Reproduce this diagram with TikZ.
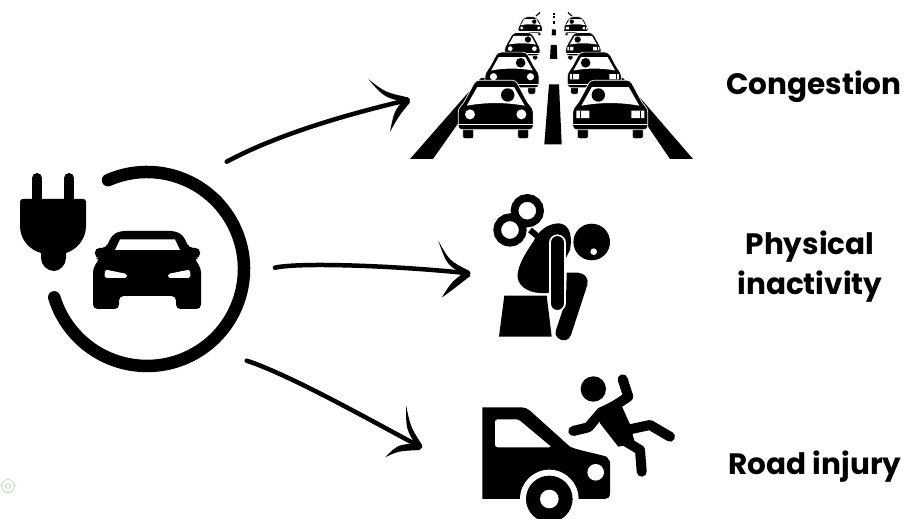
\documentclass[tikz,border=0pt]{standalone}
\usepackage{fontspec}
\setmainfont{Poppins}
\usetikzlibrary{calc}
\def\px{0.02cm}
\tikzset{
  shaft/.style={line width=4.5*\px,line cap=round},
  limb/.style={line width=10*\px,line cap=round,line join=round},
  carline/.style={draw=white,line width=0.7*\px,fill=black,line join=round},
  label/.style={font=\bfseries\fontsize{16.8pt}{22.8pt}\selectfont,align=center,inner sep=0pt}
}
% tapered barb of a hand drawn arrow head: end, via, tip, half width
\newcommand{\barb}[4]{\fill (#1) .. controls ($(#2)!#4!90:(#3)$) .. ($(#3)!#4!-90:(#2)$) -- ($(#3)!#4!90:(#2)$) .. controls ($(#2)!#4!-90:(#3)$) .. (#1);}
\newcommand{\roundlamps}{\fill[white] (-25.7,-26.3) circle (5) (25.7,-26.3) circle (5);}
\newcommand{\squarelamps}{
  \fill[white] (-34,-30) rectangle (-21,-22.5) (21,-30) rectangle (34,-22.5);
  \draw[line width=0.8*\px] (-30,-30) -- (-30,-22.5) (30,-30) -- (30,-22.5);}
\newcommand{\jamcar}[5]{
  \begin{scope}[shift={(#1,#2)},scale=#3]
    \filldraw[carline,rounded corners=1.2pt] (-33,-14) -- (-33,-2) -- (-22,-2) -- (-22,-14) -- cycle;
    \filldraw[carline,rounded corners=1.2pt] (33,-14) -- (33,-2) -- (22,-2) -- (22,-14) -- cycle;
    \filldraw[carline,rounded corners=2pt] (-20,-60.5) -- (20,-60.5) -- (32.5,-37) -- (37.5,-32) -- (37.5,-11) -- (-37.5,-11) -- (-37.5,-32) -- (-32.5,-37) -- cycle;
    \draw[white,line width=0.7*\px] (-37.5,-16) -- (37.5,-16);
    \fill[white] (-29,-35) -- (-18.5,-53.5) -- (18.5,-53.5) -- (29,-35) .. controls (10,-38.5) and (-10,-38.5) .. cycle;
    \fill (#4,-45.7) circle (6.7);
    #5
  \end{scope}}
\begin{document}
\begin{tikzpicture}[x=0.02cm,y=-0.02cm]
  \useasboundingbox (0,0) rectangle (910,519);
  % ring, plug and car
  \coordinate (ringC) at (147,269);
  \def\r{97}
  \draw[line width=12.5*\px,line cap=round] (ringC) ++(-113.7:\r) arc[start angle=-113.7,end angle=163,radius=\r];
  \draw[line width=10*\px,line cap=round] (37,178) -- (37,205) (69,178) -- (69,205);
  \fill (23,199) -- (83,199) .. controls (85,199) and (86,200) .. (86,202) -- (86,226) .. controls (86,240) and (76,250) .. (66,253) -- (66,258) .. controls (66,265) and (60,271) .. (54,271) .. controls (47,271) and (41,265) .. (41,258) -- (41,253) .. controls (30,250) and (20,240) .. (20,226) -- (20,202) .. controls (20,200) and (21,199) .. (23,199) -- cycle;
  \fill[rounded corners=2.5pt] (120,231) -- (175,231) -- (183,235) -- (189,248) -- (200,248) -- (200,258) -- (194,258) -- (201,268) -- (201,309) -- (176,309) -- (176,296) -- (119,296) -- (119,309) -- (93,309) -- (93,268) -- (100,258) -- (95,258) -- (95,248) -- (106,248) -- (112,235) -- cycle;
  \fill[white] (115,250) -- (120,239.5) -- (175,239.5) -- (180,250) -- cycle;
  \fill[white,rounded corners=1pt] (105,269.5) -- (104.5,278) -- (127,278) -- (127,274) -- cycle;
  \fill[white,rounded corners=1pt] (190,269.5) -- (190.5,278) -- (168,278) -- (168,274) -- cycle;
  % road
  \fill (410,159) -- (433,159) -- (490,78) -- (481,78) -- cycle;
  \fill (693,159) -- (670,159) -- (615,78) -- (623,78) -- cycle;
  \fill (549,84.3) -- (559,84.3) -- (561.7,144.3) -- (544.3,144.3) -- cycle;
  \fill (550.7,45) -- (556.7,45) -- (557.3,59) -- (550,59) -- cycle;
  \fill (552,29.3) -- (555.7,29.3) -- (556,35.3) -- (551.7,35.3) -- cycle;
  \fill (552.7,20.7) rectangle (555.3,24);
  \fill (553,16) rectangle (555,18.3);
  \fill (553,12.7) rectangle (555,14.7);
  \draw[line width=1.2*\px] (536,16) -- (540,12.5) (568,12.5) -- (572,16);
  % traffic, back to front
  \jamcar{530.3}{36.7}{0.33}{12}{\roundlamps}
  \jamcar{575.7}{36.7}{0.33}{-12}{\squarelamps}
  \jamcar{522.3}{61}{0.47}{12}{\roundlamps}
  \jamcar{583.3}{61}{0.47}{-12}{\squarelamps}
  \jamcar{512}{95.7}{0.72}{12}{\roundlamps}
  \jamcar{594.3}{95.7}{0.72}{-12}{\squarelamps}
  \jamcar{495.7}{140.7}{1}{12}{\roundlamps}
  \jamcar{610.3}{140.7}{1}{-12}{\squarelamps}
  % wind up figure
  \draw[line width=7.7*\px] (527.3,210.7) circle (12.8) (510,230) circle (12.8);
  \draw[line width=6*\px] (530,230) -- (542,240);
  \fill (533.3,241.7) .. controls (538,232) and (546,224) .. (558.3,223.3) .. controls (568,224) and (573,232) .. (570,250) -- (548.3,293) .. controls (535,294) and (524,291) .. (519,282) .. controls (515,275) and (519,262) .. (533.3,241.7) -- cycle;
  \fill (566.7,272.7) -- (578,272.7) .. controls (585,273) and (589,279) .. (587.3,285) -- (571,335) .. controls (569,341) and (562,342) .. (558,338) .. controls (555,335) and (555,332) .. (556,330) -- (566,300) -- cycle;
  \draw[white,line width=16.5*\px,line cap=round] (557.3,242.7) -- (557.3,303.3);
  \draw[line width=13.3*\px,line cap=round] (557.3,242.7) -- (557.3,303.3);
  \fill (591.7,242) circle (18.3);
  \fill[white] (593.7,251.7) circle (3.3);
  \fill (504.3,295.7) -- (546.7,295.7) -- (551.7,336.7) -- (499,336.7) -- cycle;
  % crash
  \fill (482.3,407.3) -- (521.7,407.3) .. controls (525,407.3) and (528,409) .. (530,410.7) -- (570,446.7) .. controls (580,451) and (595,453) .. (606.7,456.7) -- (610,461.7) -- (610,493.3) .. controls (610,497) and (608,499) .. (605,499) -- (482.3,499) -- cycle;
  \fill[white,rounded corners=1.5pt] (495,419.3) -- (518.3,419.3) -- (551.7,447.3) -- (495,447.3) -- cycle;
  \fill[white] (595.7,472.3) circle (8.3);
  \fill[white] (549.3,499) circle (29.3);
  \fill (549.3,499) circle (23.3);
  \fill[white] (549.3,499) circle (9.3);
  \fill (593.3,389) circle (12.7);
  \fill[line join=round] (598.3,408.3) -- (618.3,398.3) -- (630,424.3) -- (635,443.3) -- (618.3,446.7) -- (600,423.3) -- cycle;
  \draw[limb] (622.7,379.3) -- (628.3,396.7) -- (613.3,406.7);
  \draw[limb] (573.3,431) -- (588.3,427.3) -- (601.7,411.7);
  \draw[limb] (626.7,430) -- (650,425) -- (670,436.7);
  \draw[limb] (623.3,440) -- (640,450) -- (641.7,471.7);
  % arrows
  \coordinate (ringT) at (226.7,161.7);
  \coordinate (tipT) at (407.7,100);
  \coordinate (ringM) at (275,267.7);
  \coordinate (tipM) at (468.3,273.3);
  \coordinate (ringB) at (246.7,360.7);
  \coordinate (tipB) at (420,446.7);
  \draw[shaft] (ringT) .. controls (282,132) and (357,112) .. (tipT);
  \barb{368.3,79.3}{385,95}{tipT}{1.5pt}
  \barb{390,131.7}{396.7,113.3}{tipT}{1.9pt}
  \draw[shaft] (ringM) .. controls (300,262) and (400,266) .. (tipM);
  \barb{438.3,240.7}{448.3,263.3}{tipM}{1.5pt}
  \barb{441.7,297.7}{453.3,285}{tipM}{1.9pt}
  \draw[shaft] (ringB) .. controls (290,375) and (370,420) .. (tipB);
  \barb{406,405}{408.3,428.3}{tipB}{1.5pt}
  \barb{385,457.3}{398.3,447.7}{tipB}{1.9pt}
  % labels
  \node[label,anchor=base] (congestion) at (814,95) {Congestion};
  \node[label] (inactivity) at (810,267) {Physical\\inactivity};
  \node[label,anchor=base] (injury) at (815,475) {Road injury};
  % faint mark in the corner
  \draw[green!45!black!25,line width=0.8*\px] (8,486) circle (6.5) (8,486) circle (2.5);
\end{tikzpicture}
\end{document}
